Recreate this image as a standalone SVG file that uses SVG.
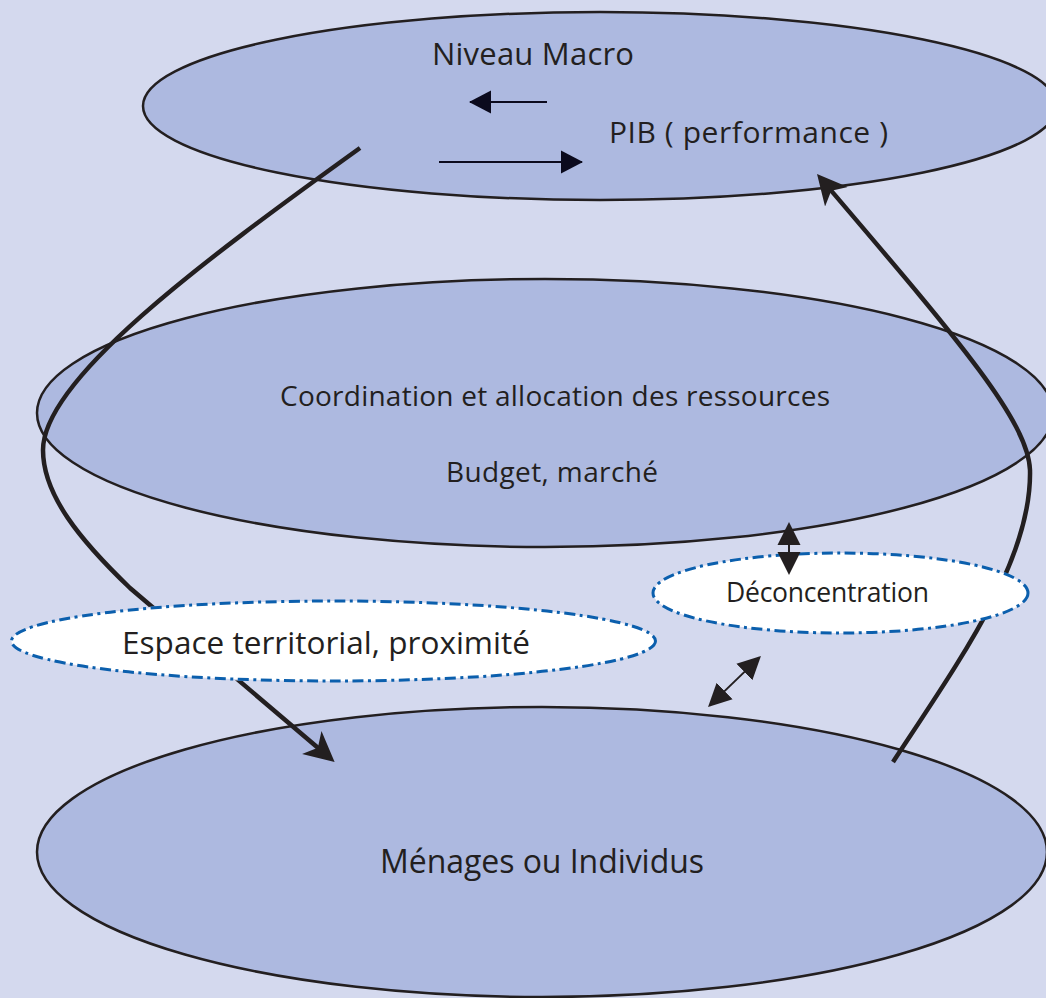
<svg xmlns="http://www.w3.org/2000/svg" width="1046" height="998" viewBox="0 0 1046 998">
<style>
.bg{fill:#d4d9ee}
.lvl{fill:#adb9e0;stroke:#231f20;stroke-width:2.5}
.dash{fill:#ffffff;stroke:#0b5fad;stroke-width:3;stroke-dasharray:11 4.5 3 4.5}
.t{font-family:"Open Sans","Liberation Sans",sans-serif;fill:#231f20}
.curve{fill:none;stroke:#231f20;stroke-width:4.5}
.thin{fill:none;stroke:#231f20;stroke-width:2}
.navy{fill:none;stroke:#0b0a1d;stroke-width:2.2}
</style>
<defs>
<marker id="bighead" viewBox="0 -16 32 32" markerWidth="32" markerHeight="32" refX="20" refY="0" orient="auto" markerUnits="userSpaceOnUse">
<path d="M0,-15 L30,0 L0,15 L8,0 Z" fill="#231f20"/>
</marker>
<marker id="small" viewBox="0 -12 24 24" markerWidth="24" markerHeight="24" refX="21" refY="0" orient="auto-start-reverse" markerUnits="userSpaceOnUse">
<path d="M0,-11.5 L23,0 L0,11.5 Z" fill="#231f20"/>
</marker>
<marker id="navyhead" viewBox="0 -12 24 24" markerWidth="24" markerHeight="24" refX="21" refY="0" orient="auto" markerUnits="userSpaceOnUse">
<path d="M0,-11.5 L22,0 L0,11.5 Z" fill="#0b0a1d"/>
</marker>
<mask id="hide" maskUnits="userSpaceOnUse" x="0" y="0" width="1046" height="998">
<rect x="0" y="0" width="1046" height="998" fill="#fff"/>
<ellipse cx="333.5" cy="641" rx="323.5" ry="41.5" fill="#000"/>
<ellipse cx="840.5" cy="593" rx="189" ry="41.5" fill="#000"/>
</mask>
</defs>
<rect class="bg" x="0" y="0" width="1046" height="998"/>
<g id="macro">
<ellipse class="lvl" cx="600" cy="106" rx="457" ry="94"/>
<text class="t" x="432" y="65" font-size="31" textLength="202">Niveau Macro</text>
<text class="t" x="609" y="143" font-size="30" textLength="279">PIB ( performance )</text>
</g>
<g id="coordination">
<ellipse class="lvl" cx="545" cy="413" rx="508" ry="134"/>
<text class="t" x="280" y="406" font-size="28" textLength="550">Coordination et allocation des ressources</text>
<text class="t" x="446" y="482" font-size="28" textLength="212">Budget, marché</text>
</g>
<g id="menages">
<ellipse class="lvl" cx="542" cy="852" rx="505" ry="145"/>
<text class="t" x="380" y="873" font-size="32" textLength="324">Ménages ou Individus</text>
</g>
<g id="connectors">
<path class="curve" mask="url(#hide)" marker-end="url(#bighead)" d="M360,148 C200,263 43,380 43,450 C43,495 80,540 130,588 L327,755.5"/>
<path class="curve" mask="url(#hide)" marker-end="url(#bighead)" d="M893,762 C960,660 1032,560 1030,470 C1028,420 955,336 823.5,181.6"/>
<path class="navy" marker-end="url(#navyhead)" d="M547,102 L470,102"/>
<path class="navy" marker-end="url(#navyhead)" d="M439,162 L582,162"/>
</g>
<g id="espace">
<ellipse class="dash" cx="333.5" cy="641" rx="322" ry="40"/>
<text class="t" x="122" y="654" font-size="31.5" textLength="408">Espace territorial, proximité</text>
</g>
<g id="deconcentration">
<ellipse class="dash" cx="840.5" cy="593" rx="187.5" ry="40"/>
<text class="t" x="726" y="602" font-size="26.5" textLength="203">Déconcentration</text>
</g>
<g id="connectors-links">
<path class="thin" marker-start="url(#small)" marker-end="url(#small)" d="M789,524 L789,573"/>
<path class="thin" marker-start="url(#small)" marker-end="url(#small)" d="M709.5,705.6 L759.5,657.4"/>
</g>
</svg>
